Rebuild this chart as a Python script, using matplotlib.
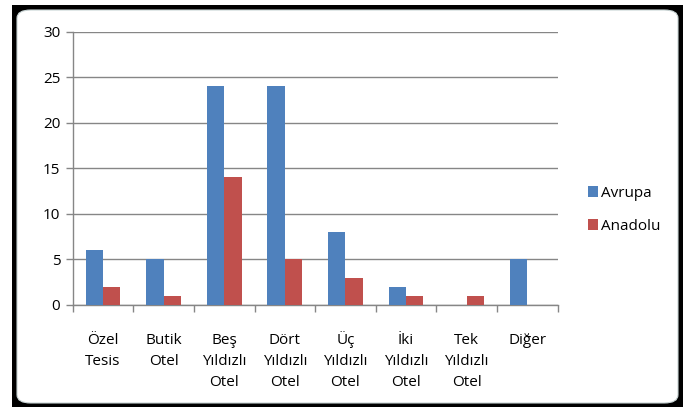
import numpy as np
import matplotlib
matplotlib.use('Agg')
import matplotlib.pyplot as plt
from matplotlib.patches import Rectangle, FancyBboxPatch

categories = ['Özel\nTesis', 'Butik\nOtel', 'Beş\nYıldızlı\nOtel', 'Dört\nYıldızlı\nOtel',
              'Üç\nYıldızlı\nOtel', 'İki\nYıldızlı\nOtel', 'Tek\nYıldızlı\nOtel', 'Diğer']
avrupa = [6, 5, 24, 24, 8, 2, 0, 5]
anadolu = [2, 1, 14, 5, 3, 1, 1, 0]
yticks = [0, 5, 10, 15, 20, 25, 30]

plt.rcParams['font.family'] = ['Open Sans', 'DejaVu Sans']
fs = 11

W, H = 687, 407
fig = plt.figure(figsize=(W / 100, H / 100), dpi=100)

# outer black frame + inner white panel
fig.patches.append(Rectangle((12 / W, -0.05), (683 - 12) / W, 1.05 - 5 / H,
                             transform=fig.transFigure, facecolor='black',
                             edgecolor='none', zorder=0))
fig.patches.append(FancyBboxPatch((17 / W, 4 / H), (678 - 17) / W, (H - 10 - 4) / H,
                                  boxstyle='round,pad=0,rounding_size=0.02',
                                  transform=fig.transFigure, facecolor='white',
                                  edgecolor='#c8d4d4', linewidth=0.8, zorder=1))

ax = fig.add_axes([72.7 / W, (H - 305) / H, (557.5 - 72.7) / W, (305 - 31.7) / H])
ax.set_zorder(2)
ax.patch.set_alpha(0)

x = np.arange(len(categories))
bw = 1 / 3.5
ax.bar(x - bw / 2, avrupa, bw, color='#4F81BD', label='Avrupa', zorder=3)
ax.bar(x + bw / 2, anadolu, bw, color='#C0504D', label='Anadolu', zorder=3)

ax.set_xlim(-0.5, len(categories) - 0.5)
ax.set_ylim(0, 30)
ax.set_yticks(yticks)
ax.yaxis.grid(True, color='#868686', linewidth=1)
ax.set_axisbelow(True)

# category boundaries get tick marks, names are placed under each group
ax.set_xticks(np.arange(len(categories) + 1) - 0.5)
ax.set_xticklabels([])
ax.tick_params(axis='x', length=5, color='#868686', width=1)
ax.tick_params(axis='y', length=5, color='#868686', width=1, labelsize=fs, pad=4)
for xi, name in zip(x, categories):
    # pad to three lines so the last-line baseline is the same for all labels
    lines = name.split('\n')
    txt = '\n'.join(lines + [' '] * (3 - len(lines)))
    ax.annotate(txt, xy=(xi, 0), xycoords=('data', 'axes fraction'),
                xytext=(0, -80.5 * 0.72), textcoords='offset points',
                ha='center', va='baseline', fontsize=fs, linespacing=1.52)

for s in ['top', 'right']:
    ax.spines[s].set_visible(False)
for s in ['left', 'bottom']:
    ax.spines[s].set_color('#868686')
    ax.spines[s].set_linewidth(1)

leg = ax.legend(loc='center left', bbox_to_anchor=(574 / W, (H - 210) / H),
                bbox_transform=fig.transFigure, frameon=False, fontsize=fs,
                handlelength=0.7, handleheight=0.7, handletextpad=0.15,
                labelspacing=1.2)

fig.savefig('out.png', dpi=100)
